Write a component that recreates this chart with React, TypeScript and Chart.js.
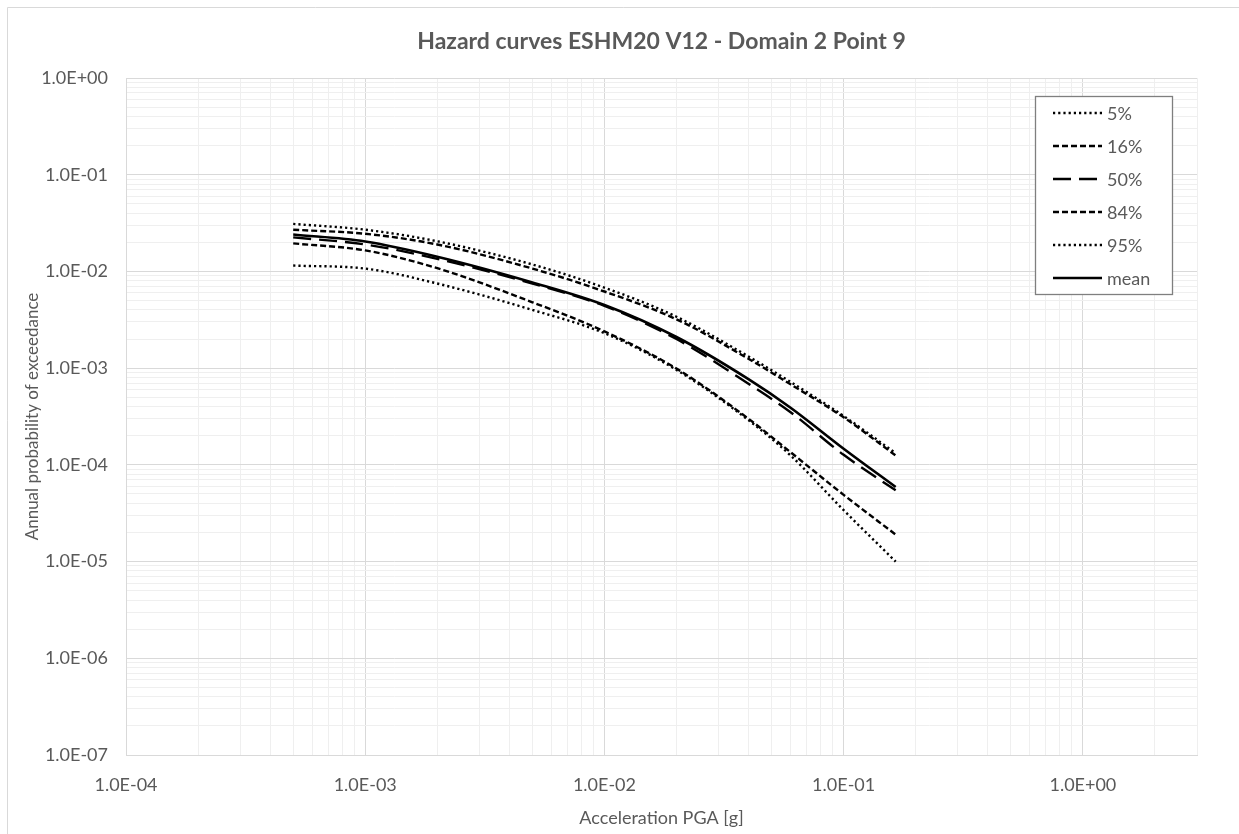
import React, { useEffect, useRef } from 'react';
import { Chart, registerables } from 'chart.js';

Chart.register(...registerables);

const W = 1239;
const H = 834;
const FONT = 'Lato, "Open Sans", sans-serif';
const TEXT = '#595959';

// Acceleration PGA [g]
const PGA = [0.0005, 0.001, 0.002, 0.005, 0.01, 0.02, 0.04, 0.06, 0.1, 0.165];
// Annual probability of exceedance per quantile
const P5 = [0.0115, 0.0107, 0.0075, 0.004, 0.0023, 0.00096, 0.00029, 0.000125, 0.000034, 0.00001];
const P16 = [0.0195, 0.0165, 0.0108, 0.0048, 0.0024, 0.00099, 0.0003, 0.000135, 0.000049, 0.000019];
const P50 = [0.0225, 0.019, 0.0135, 0.0075, 0.0044, 0.002, 0.00069, 0.00035, 0.000127, 0.0000545];
const P84 = [0.027, 0.0245, 0.019, 0.0107, 0.0062, 0.0032, 0.00125, 0.00068, 0.00031, 0.000125];
const P95 = [0.031, 0.027, 0.0205, 0.0118, 0.0068, 0.0034, 0.00132, 0.00072, 0.00032, 0.000132];
const MEAN = [0.0241, 0.0204, 0.0142, 0.0077, 0.0045, 0.0021, 0.00077, 0.00039, 0.000147, 0.000059];

const SERIES_LABELS = ['5%', '16%', '50%', '84%', '95%', 'mean'];
const SERIES_VALUES = [P5, P16, P50, P84, P95, MEAN];
const SERIES_DASH = [[2.2, 3], [6, 3], [18, 8], [6, 3], [2.2, 3], []];

const X_TICK_LABELS = ['1.0E-04', '1.0E-03', '1.0E-02', '1.0E-01', '1.0E+00'];
const Y_TICK_LABELS = ['1.0E-07', '1.0E-06', '1.0E-05', '1.0E-04', '1.0E-03', '1.0E-02', '1.0E-01', '1.0E+00'];
const X_MIN = 1e-4;
const X_MAX = 3;
const Y_MIN = 1e-7;
const Y_MAX = 1;

const TITLE = 'Hazard curves ESHM20 V12 - Domain 2 Point 9';
const X_TITLE = 'Acceleration PGA [g]';
const Y_TITLE = 'Annual probability of exceedance';

function decadeTicks(min: number, max: number) {
  const out: { value: number; major: boolean }[] = [];
  const e0 = Math.floor(Math.log10(min) + 1e-9);
  for (let e = e0; Math.pow(10, e) <= max * 1.0001; e++) {
    for (let m = 1; m <= 9; m++) {
      const v = m * Math.pow(10, e);
      if (v >= min * 0.9999 && v <= max * 1.0001) out.push({ value: v, major: m === 1 });
    }
  }
  return out;
}

function labelFor(labels: string[], min: number) {
  return (value: number) => {
    const l = Math.log10(value);
    const e = Math.round(l);
    if (Math.abs(l - e) > 1e-6) return '';
    return labels[e - Math.round(Math.log10(min))] ?? '';
  };
}

const gridColor = (ctx: any) => {
  const v = ctx.tick ? ctx.tick.value : 0;
  const l = Math.log10(v);
  return Math.abs(l - Math.round(l)) < 1e-6 ? '#d9d9d9' : '#efefef';
};

const framePlugin = {
  id: 'frame',
  beforeDraw(chart: any) {
    const ctx = chart.ctx;
    ctx.save();
    ctx.fillStyle = '#ffffff';
    ctx.fillRect(0, 0, chart.width, chart.height);
    ctx.strokeStyle = '#d9d9d9';
    ctx.lineWidth = 1;
    ctx.beginPath();
    ctx.moveTo(7.5, chart.height);
    ctx.lineTo(7.5, 7.5);
    ctx.lineTo(chart.width, 7.5);
    ctx.stroke();
    ctx.restore();
  },
  afterDraw(chart: any) {
    const ctx = chart.ctx;
    const area = chart.chartArea;
    ctx.save();
    // title
    ctx.fillStyle = TEXT;
    ctx.font = `bold 23px ${FONT}`;
    ctx.textAlign = 'center';
    ctx.textBaseline = 'middle';
    ctx.fillText(TITLE, (area.left + area.right) / 2, 42);
    // legend box
    const bw = 137;
    const bh = 198;
    const bx = area.right - 25 - bw;
    const by = area.top + 18;
    ctx.fillStyle = '#ffffff';
    ctx.fillRect(bx, by, bw, bh);
    ctx.strokeStyle = '#7f7f7f';
    ctx.lineWidth = 1.3;
    ctx.strokeRect(bx + 0.5, by + 0.5, bw, bh);
    ctx.font = `18px ${FONT}`;
    ctx.textAlign = 'left';
    chart.data.datasets.forEach((ds: any, i: number) => {
      const y = by + 17 + 33 * i;
      ctx.strokeStyle = ds.borderColor;
      ctx.lineWidth = ds.borderWidth;
      ctx.setLineDash(ds.borderDash || []);
      ctx.beginPath();
      ctx.moveTo(bx + 18, y);
      ctx.lineTo(bx + 67, y);
      ctx.stroke();
      ctx.setLineDash([]);
      ctx.fillStyle = TEXT;
      ctx.fillText(ds.label, bx + 72, y + 1);
    });
    ctx.restore();
  },
};

export default function App() {
  const ref = useRef<HTMLCanvasElement>(null);

  useEffect(() => {
    if (!ref.current) return;
    const datasets = SERIES_LABELS.map((label, i) => ({
      label,
      data: PGA.map((x, j) => ({ x, y: SERIES_VALUES[i][j] })),
      borderColor: '#000000',
      backgroundColor: '#000000',
      borderWidth: i === 5 ? 2.6 : 2.4,
      borderDash: SERIES_DASH[i],
      pointRadius: 0,
      fill: false,
      cubicInterpolationMode: 'monotone' as const,
    }));

    const chart = new Chart(ref.current, {
      type: 'line',
      data: { datasets },
      plugins: [framePlugin],
      options: {
        responsive: false,
        animation: false,
        layout: { padding: { top: 78, right: 42, bottom: 0, left: 0 } },
        plugins: {
          legend: { display: false },
          title: { display: false },
          tooltip: { enabled: false },
        },
        scales: {
          x: {
            type: 'logarithmic',
            min: X_MIN,
            max: X_MAX,
            afterBuildTicks: (scale: any) => {
              scale.ticks = decadeTicks(X_MIN, X_MAX);
            },
            afterFit: (scale: any) => {
              scale.height = 79;
            },
            grid: { color: gridColor, drawTicks: false, lineWidth: 1 },
            border: { display: true, color: '#d9d9d9' },
            ticks: {
              autoSkip: false,
              maxRotation: 0,
              padding: 19,
              color: TEXT,
              font: { family: FONT, size: 18 },
              callback: labelFor(X_TICK_LABELS, X_MIN),
            },
            title: {
              display: true,
              text: X_TITLE,
              color: TEXT,
              font: { family: FONT, size: 18 },
              padding: { top: 0, bottom: 5 },
            },
          },
          y: {
            type: 'logarithmic',
            min: Y_MIN,
            max: Y_MAX,
            afterBuildTicks: (scale: any) => {
              scale.ticks = decadeTicks(Y_MIN, Y_MAX);
            },
            afterFit: (scale: any) => {
              scale.width = 126;
            },
            grid: { color: gridColor, drawTicks: false, lineWidth: 1 },
            border: { display: true, color: '#d9d9d9' },
            ticks: {
              autoSkip: false,
              padding: 18,
              color: TEXT,
              font: { family: FONT, size: 18 },
              callback: labelFor(Y_TICK_LABELS, Y_MIN),
            },
            title: {
              display: true,
              text: Y_TITLE,
              color: TEXT,
              font: { family: FONT, size: 17 },
              padding: { top: 22, bottom: 0 },
            },
          },
        },
      },
    });
    return () => chart.destroy();
  }, []);

  return (
    <div style={{ position: 'fixed', left: 0, top: 0, width: W, height: H, background: '#fff' }}>
      <canvas ref={ref} width={W} height={H} style={{ display: 'block', width: W, height: H }} />
    </div>
  );
}
